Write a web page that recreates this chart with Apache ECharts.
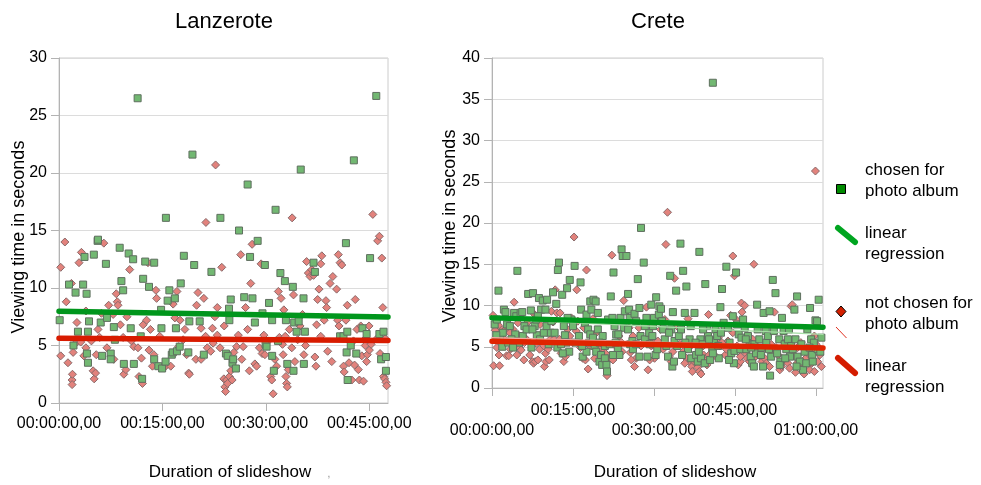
<!DOCTYPE html>
<html>
<head>
<meta charset="utf-8">
<script src="https://cdn.jsdelivr.net/npm/echarts@6/dist/echarts.min.js"></script>
<style>
html,body{margin:0;padding:0;background:#fff;}
#chart{width:981px;height:485px;}
</style>
</head>
<body>
<div id="chart"></div>
<script>
// ---------- DATA (x = minutes into slideshow, y = viewing time in seconds) ----------
const titles = ['Lanzerote', 'Crete'];
const xAxisTitle = 'Duration of slideshow';
const yAxisTitle = 'Viewing time in seconds';
const legendTexts = ['chosen for\nphoto album', 'linear\nregression', 'not chosen for\nphoto album', 'linear\nregression'];

const lanzXTicks = [0, 15, 30, 45];
const creteXTicks = [0, 15, 30, 45, 60];
const lanzXMax = 47.7;
const creteXMax = 61.3;
const lanzYMax = 30;
const creteYMax = 40;

const lanzChosen = [
[0.1,7.2],[1.45,10.3],[2.4,9.6],[2.1,5.0],[2.75,6.2],[3.5,10.3],[4.0,9.5],[4.35,7.1],[4.2,6.2],[4.05,4.3],
[4.2,3.5],[3.7,12.7],[5.05,12.9],[5.6,14.1],[6.05,7.0],[6.25,4.1],[6.8,12.1],[6.95,7.4],[7.5,4.3],[7.5,3.8],
[7.95,6.6],[8.1,5.5],[8.8,13.5],[9.05,10.6],[9.3,9.8],[9.4,3.4],[10.1,13.0],[10.4,6.5],[10.75,12.5],[10.85,3.4],
[11.85,5.8],[12.05,2.1],[12.2,10.8],[12.5,12.3],[13.05,10.1],[13.8,12.2],[13.8,3.8],[14.4,3.2],[14.8,8.1],[14.85,6.5],
[14.95,3.0],[15.45,3.6],[15.75,8.9],[16.0,9.8],[16.35,4.2],[16.5,4.4],[16.8,9.1],[16.95,6.5],[17.1,4.5],[17.5,4.9],
[17.65,10.4],[18.1,12.8],[18.75,4.4],[18.9,7.1],[19.6,12.0],[20.4,7.1],[21.0,4.2],[22.1,11.4],[24.2,4.3],[24.45,4.1],
[24.65,8.2],[24.7,7.2],[24.9,9.0],[25.15,3.5],[25.25,3.8],[25.65,3.0],[26.1,15.0],[26.85,9.2],[27.7,12.7],[28.05,9.1],
[28.4,7.0],[28.8,14.1],[29.5,7.8],[29.85,12.0],[29.95,5.1],[30.1,4.9],[30.45,8.7],[30.9,7.2],[30.9,4.1],[31.15,2.8],
[31.75,5.4],[32.1,11.3],[32.75,10.6],[32.9,7.2],[33.1,3.4],[34.0,2.8],[33.9,10.1],[34.1,7.0],[34.45,6.2],[34.75,7.1],
[35.45,9.1],[35.5,3.4],[35.65,6.2],[36.9,12.2],[37.1,11.4],[40.75,5.8],[41.25,5.8],[41.6,13.9],[41.8,6.2],[41.7,4.4],
[41.85,2.0],[42.3,5.0],[43.1,4.3],[44.0,6.5],[44.6,6.0],[45.1,12.6],[46.45,6.0],[46.7,3.8],[47.05,6.2],[47.4,2.8],
[47.4,4.0],[5.65,14.2],[11.4,26.5],[15.5,16.1],[19.35,21.6],[23.4,16.1],[27.35,19.0],[31.4,16.8],[35.05,20.3],[42.75,21.1],
[46.0,26.7]
];

const lanzNotChosen = [
[0.25,11.8],[0.25,4.1],[0.85,14.0],[1.05,8.8],[1.3,3.5],[1.9,2.0],[1.9,1.6],[1.95,2.5],[1.8,10.4],[2.05,4.4],
[2.4,5.2],[2.6,7.0],[2.9,12.2],[3.25,13.1],[3.15,5.3],[3.6,4.1],[3.9,4.8],[3.9,8.0],[4.7,5.4],[4.95,2.8],
[5.1,2.1],[5.3,2.6],[5.4,4.2],[5.65,6.4],[5.9,5.7],[6.15,7.8],[6.5,13.9],[6.95,4.8],[7.2,8.5],[7.85,7.7],
[7.95,3.8],[8.3,9.5],[8.45,8.8],[8.55,8.5],[8.9,6.8],[9.3,5.7],[9.4,2.5],[9.7,2.9],[9.85,7.5],[10.25,11.6],
[10.5,5.4],[10.85,4.9],[11.45,4.8],[11.6,2.3],[12.1,1.7],[11.95,3.9],[12.2,6.8],[12.7,7.2],[12.9,12.2],[13.05,4.6],
[13.25,6.4],[13.55,3.2],[13.75,4.2],[14.05,9.8],[14.15,9.1],[14.6,5.8],[15.45,3.2],[16.2,3.2],[16.55,8.6],[16.8,7.4],
[17.1,9.7],[17.35,4.9],[17.55,7.2],[18.0,5.5],[18.25,6.4],[18.5,4.2],[18.8,2.6],[18.9,2.5],[19.85,3.8],[19.95,8.5],
[20.15,9.6],[20.6,6.5],[20.6,3.8],[21.0,9.1],[21.25,5.8],[21.5,4.8],[22.0,4.5],[22.25,6.5],[22.35,5.2],[22.6,7.5],
[22.95,5.9],[22.95,8.3],[23.35,4.8],[23.6,11.8],[23.95,6.7],[23.9,2.1],[24.05,1.4],[24.15,1.0],[24.3,2.0],[24.45,1.7],
[24.7,2.3],[24.9,2.8],[25.1,2.0],[25.35,4.4],[25.75,4.9],[26.0,5.9],[26.35,12.9],[26.5,3.8],[26.7,4.9],[27.05,8.3],
[27.35,6.4],[27.6,2.8],[27.8,10.4],[28.0,13.8],[28.4,3.4],[28.65,3.2],[29.05,4.8],[29.3,12.1],[29.45,4.3],[29.7,5.9],
[29.85,4.2],[30.35,5.4],[30.7,2.3],[30.85,2.0],[31.05,0.8],[31.3,3.8],[31.55,3.2],[31.8,9.7],[31.95,5.7],[32.2,9.1],
[32.4,5.1],[32.5,4.2],[32.6,8.1],[32.8,5.8],[32.9,2.3],[33.0,1.7],[33.1,1.4],[33.25,2.9],[33.4,6.4],[33.75,4.8],
[34.0,9.4],[34.2,3.6],[34.6,5.5],[34.95,6.7],[35.3,7.7],[35.5,4.2],[35.75,5.0],[35.9,12.3],[36.15,11.3],[36.4,11.0],
[36.65,11.6],[36.9,11.1],[37.1,4.0],[37.25,3.2],[37.35,6.8],[37.5,9.0],[37.7,9.9],[37.95,5.8],[38.1,12.8],[37.95,12.1],
[38.45,7.2],[38.7,8.9],[38.8,8.3],[38.95,4.5],[39.3,10.4],[39.55,3.6],[39.7,11.0],[40.25,9.9],[40.4,7.2],[40.5,12.9],
[40.6,6.7],[40.75,12.2],[41.0,12.0],[41.25,3.2],[41.35,2.7],[41.6,7.2],[41.8,8.5],[42.05,3.5],[42.45,2.0],[42.7,5.4],
[42.85,3.3],[42.95,9.0],[43.2,6.4],[43.4,2.9],[43.55,2.0],[43.75,6.7],[43.9,4.1],[44.15,1.9],[44.25,5.5],[44.4,5.0],
[44.6,3.6],[44.7,4.2],[44.95,6.7],[45.0,4.6],[45.25,5.1],[46.1,5.6],[46.2,14.1],[46.45,14.5],[46.55,4.3],[46.8,12.6],
[46.95,8.3],[47.05,2.3],[47.2,2.1],[47.3,5.6],[47.4,1.8],[47.5,1.5],[22.7,20.7],[21.3,15.7],[33.8,16.1],[45.5,16.4]
];

const creteChosen = [
[1.2,11.8],[0.5,7.7],[0.9,8.3],[1.9,5.0],[2.2,9.5],[2.5,9.2],[2.8,7.7],[1.5,6.2],[3.0,5.5],[2.0,6.7],[0.8,6.4],
[4.7,14.2],[4.1,9.1],[4.5,8.7],[5.3,9.1],[5.0,5.5],[5.6,9.2],[5.7,6.3],[4.3,6.5],[3.6,5.9],[3.3,7.5],[6.0,7.5],[3.9,4.9],
[6.7,11.4],[7.2,9.4],[7.6,11.5],[7.9,7.5],[8.2,8.3],[8.3,6.4],[8.7,10.9],[8.9,5.9],[9.1,9.5],[6.4,7.1],[7.3,4.9],[8.5,8.7],[7.5,7.1],
[9.4,10.6],[9.9,9.5],[10.2,10.7],[10.8,6.7],[11.3,11.6],[11.6,6.7],[11.9,10.2],[12.2,14.3],[9.6,6.7],[10.1,7.5],[11.0,8.1],[10.5,5.3],[12.1,4.9],
[12.4,15.2],[13.0,11.3],[13.3,7.5],[13.9,12.1],[14.3,4.4],[14.4,13.1],[13.1,4.2],[13.8,5.5],[13.5,6.4],[14.7,8.3],[15.0,7.5],[15.3,14.8],[12.8,5.3],[14.0,8.5],
[16.4,12.8],[16.5,9.5],[16.8,3.8],[17.2,7.9],[17.5,8.9],[17.8,7.1],[18.2,10.5],[18.4,9.5],[18.0,5.5],[16.1,6.3],[17.5,4.4],[15.6,5.5],[16.7,5.1],[18.2,6.5],
[18.8,10.7],[19.2,10.5],[19.0,5.1],[19.3,4.4],[19.6,7.1],[19.9,3.2],[20.2,4.0],[20.4,2.8],[20.9,3.6],[21.2,2.8],[21.3,2.0],[21.5,8.3],[19.6,9.1],[20.5,6.3],[18.7,6.1],[19.9,5.5],[20.9,5.1],
[22.0,11.1],[22.3,8.5],[22.5,14.0],[22.7,7.5],[23.0,6.5],[23.3,4.7],[23.6,4.0],[23.8,8.5],[24.0,16.8],[24.2,16.0],[24.4,7.3],[24.6,9.3],[21.8,5.3],[22.4,4.0],[23.4,6.5],[22.9,5.5],
[24.9,16.0],[25.2,11.4],[25.4,9.5],[25.5,8.5],[25.6,5.3],[26.0,5.7],[26.4,9.0],[26.7,8.1],[27.0,13.2],[27.3,3.8],[27.3,9.7],[27.5,6.3],[26.1,4.7],[25.2,7.1],[26.7,5.3],
[28.1,15.2],[28.3,5.9],[28.6,8.5],[28.8,3.8],[29.1,6.7],[29.5,10.1],[29.8,7.5],[30.0,8.5],[30.3,4.0],[30.4,11.0],[30.6,4.7],[30.9,8.9],[29.2,5.3],[29.7,6.3],[28.3,7.5],
[31.0,9.9],[31.3,9.6],[31.5,8.1],[32.0,5.9],[32.3,5.1],[32.6,3.8],[33.0,13.6],[33.2,7.1],[33.4,2.6],[33.5,9.2],[33.7,3.2],[33.8,5.7],[31.7,7.1],[32.8,6.7],
[34.1,11.8],[34.6,6.3],[34.9,17.5],[35.0,7.1],[35.4,14.2],[35.7,9.1],[36.0,12.3],[36.3,4.7],[36.6,5.9],[36.9,3.6],[35.2,4.0],[35.8,5.5],[34.3,5.1],[36.8,7.5],
[37.5,9.1],[37.8,4.0],[38.1,3.2],[38.4,16.5],[38.6,5.9],[38.7,3.6],[38.9,5.3],[39.4,3.0],[39.5,12.6],[39.8,7.5],[40.0,6.3],[39.1,7.1],[38.3,4.4],[37.7,5.5],
[40.4,3.4],[40.8,4.9],[41.1,5.7],[41.4,7.1],[41.7,6.3],[42.0,3.6],[42.3,9.8],[42.4,6.7],[42.6,12.0],[42.9,7.9],[43.1,7.5],[40.9,4.2],[41.9,5.1],[40.2,5.9],
[43.4,14.7],[43.7,7.3],[44.0,5.5],[44.3,4.2],[44.6,8.7],[44.9,4.5],[45.2,14.0],[45.4,7.7],[45.7,6.5],[46.0,4.7],[46.2,6.1],[44.8,3.0],[43.9,3.4],
[46.5,8.3],[46.8,7.3],[47.1,4.7],[47.4,6.3],[47.7,5.3],[47.9,3.8],[48.2,3.0],[48.5,2.6],[48.6,5.3],[48.9,4.2],[49.1,10.1],[49.2,7.1],[47.0,5.9],[48.0,4.9],
[49.5,5.9],[49.9,4.9],[50.2,2.6],[50.3,9.1],[50.7,6.9],[50.8,5.5],[51.1,6.3],[51.4,9.3],[51.5,1.5],[51.7,3.8],[52.0,13.1],[52.2,6.9],[49.8,4.0],[51.3,4.7],
[52.5,11.5],[52.8,4.2],[53.2,5.9],[53.4,3.2],[53.7,8.5],[54.0,6.9],[54.2,5.3],[54.5,4.7],[54.8,5.9],[55.0,7.1],[55.2,3.8],[55.4,5.1],[53.3,2.8],[54.3,3.6],
[55.7,4.7],[56.0,9.5],[56.2,5.9],[56.5,11.1],[56.6,3.8],[57.0,3.2],[57.3,5.3],[57.6,2.2],[57.9,4.4],[58.2,3.0],[58.4,7.1],[56.4,2.6],
[58.9,9.7],[59.1,5.9],[59.3,4.0],[59.6,5.5],[59.9,8.2],[60.2,8.1],[60.3,4.7],[60.5,10.7],[60.8,4.4],[61.0,6.1],[59.4,3.2],[58.8,4.9],
[40.9,37.0],[27.6,19.4]
];

const creteNotChosen = [
[0.2,8.8],[0.3,2.7],[1.4,2.7],[0.7,5.8],[0.9,4.9],[1.3,4.0],[1.7,7.1],[2.3,5.9],[2.7,3.9],[1.9,5.3],[0.6,7.0],[1.2,7.6],[2.5,7.1],
[4.1,10.4],[3.1,3.9],[3.4,4.7],[4.6,4.0],[3.8,5.1],[4.9,6.4],[5.1,4.9],[5.4,4.6],[5.9,3.4],[6.0,5.5],[3.9,7.1],[4.8,7.9],[3.3,6.7],
[6.8,11.4],[6.4,5.9],[7.0,4.0],[7.5,3.2],[7.7,3.0],[8.0,3.2],[8.5,3.4],[8.8,4.7],[8.2,5.4],[6.5,7.9],[7.9,8.9],[8.9,7.7],
[9.6,5.1],[9.9,4.2],[10.4,4.7],[9.7,2.6],[10.0,3.2],[10.6,3.4],[11.0,9.3],[11.3,8.0],[11.7,11.9],[12.0,9.1],[10.8,5.9],[11.5,5.9],
[12.6,9.1],[13.3,3.2],[13.6,3.8],[14.7,8.5],[15.7,11.9],[14.4,6.3],[12.5,5.9],[14.0,7.1],[14.9,5.5],[12.8,4.2],
[16.8,3.6],[17.5,14.3],[17.8,2.3],[15.6,6.9],[16.4,4.9],[17.3,3.4],[18.1,5.1],[15.9,8.1],[17.0,7.3],
[18.7,8.4],[19.9,4.7],[20.2,3.7],[20.5,3.8],[20.7,4.4],[21.0,4.2],[21.3,1.5],[21.2,3.4],[19.3,6.7],[19.0,3.6],
[22.2,16.1],[21.9,3.6],[22.4,3.4],[22.9,5.1],[23.5,6.3],[24.0,5.5],[24.4,10.6],[24.1,4.4],
[25.4,7.3],[25.6,4.3],[26.1,6.3],[26.4,2.6],[26.7,3.6],[27.2,7.3],[25.8,3.4],[27.6,5.1],
[28.3,5.5],[28.9,2.2],[28.6,9.8],[29.5,5.1],[29.8,5.9],[30.1,3.6],[29.2,3.4],[30.7,5.7],
[32.2,17.4],[31.2,7.1],[31.7,4.7],[32.4,5.1],[32.8,3.8],[33.2,3.2],[33.8,13.3],[32.0,8.3],[33.5,4.4],
[34.3,7.5],[34.8,5.3],[35.4,4.4],[36.0,3.6],[36.3,8.4],[36.5,3.2],[36.8,5.1],[37.0,2.6],[37.1,2.0],[35.7,3.0],
[37.3,3.6],[37.6,3.1],[37.9,4.2],[38.1,2.5],[38.4,2.0],[38.7,1.7],[39.1,5.1],[39.4,5.5],[39.7,3.4],[40.1,8.9],[39.2,4.0],[39.8,2.8],
[40.2,4.0],[40.9,4.7],[41.2,5.9],[41.5,3.8],[41.9,6.1],[42.2,5.1],[42.6,5.5],[42.9,7.5],[43.2,4.0],
[43.4,4.7],[43.7,5.7],[44.2,8.8],[44.6,16.0],[44.9,13.6],[45.2,8.3],[45.6,2.8],[46.0,3.2],[46.2,10.3],[44.6,6.7],[45.4,5.1],[46.0,3.8],
[46.3,9.2],[46.8,10.0],[47.0,4.2],[47.2,3.6],[47.7,3.2],[48.3,2.7],[48.5,15.0],[48.8,3.8],[49.2,4.7],[47.5,6.3],[48.3,5.9],
[49.7,3.8],[50.0,3.2],[50.5,3.6],[50.8,3.0],[51.1,4.9],[51.4,2.6],[51.7,5.3],[52.0,4.2],[52.3,9.2],[50.7,5.1],
[52.6,4.9],[53.0,4.0],[53.3,2.2],[53.6,2.6],[53.9,3.2],[54.5,3.6],[54.8,3.0],[55.1,2.4],[55.4,9.9],[54.2,5.5],
[55.6,10.1],[55.9,4.0],[56.2,1.9],[56.5,3.0],[56.8,3.4],[57.2,5.5],[57.5,2.6],[57.8,1.7],[58.1,3.6],[58.5,4.2],[56.6,4.9],
[58.8,2.2],[59.2,3.0],[59.7,2.0],[60.0,5.3],[60.3,3.2],[60.7,4.0],[61.0,2.6],[59.7,6.3],
[15.2,18.3],[32.5,21.3],[59.9,26.3]
];

// regression lines: [start value, end value]
const lanzRegChosen = [[0, 7.97], [lanzXMax, 7.48]];
const lanzRegNot = [[0, 5.62], [lanzXMax, 5.44]];
const creteRegChosen = [[0, 8.5], [creteXMax, 7.36]];
const creteRegNot = [[0, 5.66], [creteXMax, 4.85]];
const creteRegChosenThin = [[0, 8.4], [creteXMax, 6.5]];
const creteRegNotThin = [[0, 6.1], [creteXMax, 5.0]];

// ---------- STYLE ----------
const FONT = '"Liberation Sans", Arial, Helvetica, sans-serif';
const GREEN_PT = '#72b872', RED_PT = '#e2827c';
const GREEN_LINE = '#00961c', RED_LINE = '#d81b00';

function fmtTime(m) {
  const s = Math.round(m * 60);
  const h = Math.floor(s / 3600), mm = Math.floor((s % 3600) / 60), ss = s % 60;
  const p = n => String(n).padStart(2, '0');
  return p(h) + ':' + p(mm) + ':' + p(ss) + ',00';
}

const grids = [
  {left: 59, top: 58, width: 329, height: 345},
  {left: 492, top: 58, width: 331, height: 330}
];

function makeX(idx, max, ticks, stagger) {
  return {
    type: 'value', gridIndex: idx, min: 0, max: max, interval: 15,
    axisLine: {show: true, lineStyle: {color: '#b3b3b3'}},
    axisTick: {show: true, length: 8, lineStyle: {color: '#b3b3b3'}, customValues: ticks},
    splitLine: {show: false},
    axisLabel: {
      customValues: ticks,
      showMinLabel: true, showMaxLabel: true, hideOverlap: false,
      color: '#000', fontFamily: FONT, fontSize: 16,
      margin: stagger ? 15 : 13,
      formatter: function (v) {
        const t = fmtTime(v);
        if (stagger && Math.round(v / 15) % 2 === 0) return '{lo|' + t + '}';
        return '{up|' + t + '}';
      },
      rich: {
        up: {fontFamily: FONT, fontSize: 16, color: '#000'},
        lo: {fontFamily: FONT, fontSize: 16, color: '#000', padding: [20, 0, 0, 0]}
      }
    }
  };
}
function makeY(idx, max) {
  return {
    type: 'value', gridIndex: idx, min: 0, max: max, interval: 5,
    axisLine: {show: true, lineStyle: {color: '#b3b3b3'}},
    axisTick: {show: true, length: 8, lineStyle: {color: '#b3b3b3'}},
    splitLine: {show: true, lineStyle: {color: '#dcdcdc'}},
    axisLabel: {color: '#000', fontFamily: FONT, fontSize: 16, margin: 12}
  };
}

function scatter(idx, data, sym, size, color, border) {
  return {
    type: 'scatter', xAxisIndex: idx, yAxisIndex: idx, data: data,
    symbol: sym, symbolSize: size, silent: true,
    itemStyle: {color: color, borderColor: border, borderWidth: 1, opacity: 1}
  };
}
function regLine(idx, data, color, width, z) {
  return {
    type: 'line', xAxisIndex: idx, yAxisIndex: idx, data: data,
    showSymbol: false, symbol: 'none', silent: true, z: z,
    lineStyle: {color: color, width: width, cap: 'round'}
  };
}

function txt(x, y, text, size, extra) {
  return {type: 'text', x: x, y: y,
    style: Object.assign({text: text, font: size + 'px ' + FONT, fill: '#000', textAlign: 'center', textVerticalAlign: 'middle'}, extra || {})};
}

const legendX = 865;
const option = {
  animation: false,
  backgroundColor: '#fff',
  grid: grids.map(g => Object.assign({show: true, borderColor: '#cccccc', borderWidth: 1, backgroundColor: 'transparent'}, g)),
  xAxis: [makeX(0, lanzXMax, lanzXTicks, false), makeX(1, creteXMax, creteXTicks, true)],
  yAxis: [makeY(0, lanzYMax), makeY(1, creteYMax)],
  series: [
    scatter(0, lanzNotChosen, 'diamond', 8, RED_PT, '#8a6a6a'),
    scatter(0, lanzChosen, 'rect', 7, GREEN_PT, '#5f6f5f'),
    regLine(0, lanzRegNot, RED_LINE, 5.5, 5),
    regLine(0, lanzRegChosen, GREEN_LINE, 5.5, 5),
    scatter(1, creteNotChosen, 'diamond', 8, RED_PT, '#8a6a6a'),
    scatter(1, creteChosen, 'rect', 7, GREEN_PT, '#5f6f5f'),
    regLine(1, creteRegNotThin, '#f2a8a0', 1.5, 4),
    regLine(1, creteRegChosenThin, '#a6dca6', 1.5, 4),
    regLine(1, creteRegNot, '#e02400', 5.5, 5),
    regLine(1, creteRegChosen, GREEN_LINE, 5.5, 5)
  ],
  graphic: [
    txt(224, 22, titles[0], 22),
    txt(658, 22, titles[1], 22),
    txt(230, 472, xAxisTitle, 17),
    txt(675, 472, xAxisTitle, 17),
    Object.assign(txt(19, 237, yAxisTitle, 18), {rotation: Math.PI / 2}),
    Object.assign(txt(450, 226, yAxisTitle, 18), {rotation: Math.PI / 2}),
    txt(329, 474, ',', 10, {fill: '#888'}),
    // legend
    {type: 'rect', shape: {x: 836.5, y: 184.5, width: 9, height: 9}, style: {fill: '#008a00', stroke: '#000', lineWidth: 1}},
    txt(legendX, 181, legendTexts[0], 17, {textAlign: 'left', lineHeight: 21}),
    {type: 'line', shape: {x1: 838, y1: 228, x2: 855, y2: 242}, style: {stroke: '#00a520', lineWidth: 6, lineCap: 'round'}},
    txt(legendX, 244, legendTexts[1], 17, {textAlign: 'left', lineHeight: 21}),
    {type: 'polygon', shape: {points: [[841, 306], [846, 311.5], [841, 317], [836, 311.5]]}, style: {fill: '#d42000', stroke: '#000', lineWidth: 1}},
    txt(legendX, 314, legendTexts[2], 17, {textAlign: 'left', lineHeight: 21}),
    {type: 'line', shape: {x1: 836, y1: 327, x2: 846.5, y2: 338}, style: {stroke: '#e03020', lineWidth: 1}},
    {type: 'line', shape: {x1: 838, y1: 358, x2: 855, y2: 373}, style: {stroke: '#d41c00', lineWidth: 6, lineCap: 'round'}},
    txt(legendX, 377, legendTexts[3], 17, {textAlign: 'left', lineHeight: 21})
  ]
};

const chart = echarts.init(document.getElementById('chart'), null, {renderer: 'canvas'});
chart.setOption(option);
</script>
</body>
</html>
